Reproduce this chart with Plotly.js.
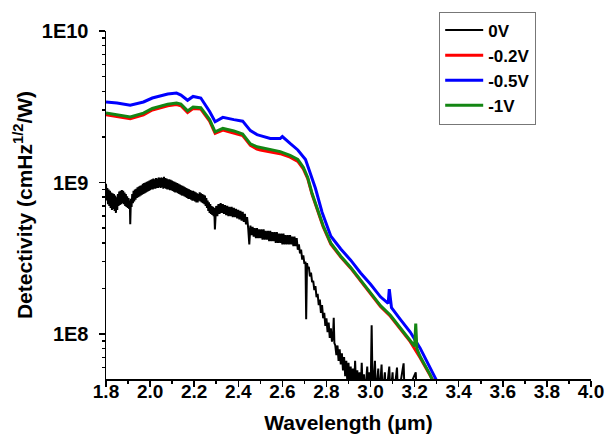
<!DOCTYPE html>
<html>
<head>
<meta charset="utf-8">
<script src="https://cdn.plot.ly/plotly-3.0.1.min.js"></script>
<style>html,body{margin:0;padding:0;background:#fff;}#chart{width:608px;height:440px;}</style>
</head>
<body>
<div id="chart"></div>
<script>
// Series names
var seriesNames = ['0V', '-0.2V', '-0.5V', '-1V'];

// 0V (black, noisy)
var wl0 = [1.800,1.803,1.806,1.809,1.812,1.815,1.818,1.821,1.824,1.827,1.830,1.833,1.836,1.839,1.842,1.845,1.848,1.851,1.854,1.857,1.860,1.863,1.866,1.869,1.872,1.875,1.878,1.881,1.884,1.887,1.890,1.893,1.896,1.899,1.902,1.905,1.908,1.910,1.913,1.916,1.919,1.922,1.925,1.928,1.931,1.934,1.937,1.940,1.943,1.946,1.949,1.952,1.955,1.958,1.961,1.964,1.967,1.970,1.973,1.976,1.979,1.982,1.985,1.988,1.991,1.994,1.997,2.000,2.003,2.006,2.009,2.012,2.015,2.018,2.021,2.024,2.027,2.030,2.033,2.036,2.039,2.042,2.045,2.048,2.051,2.054,2.057,2.060,2.063,2.066,2.069,2.072,2.075,2.078,2.081,2.084,2.087,2.090,2.093,2.096,2.099,2.102,2.105,2.108,2.111,2.114,2.117,2.120,2.123,2.126,2.129,2.132,2.135,2.138,2.141,2.144,2.147,2.150,2.153,2.156,2.159,2.162,2.165,2.168,2.171,2.174,2.177,2.180,2.183,2.186,2.189,2.192,2.195,2.198,2.201,2.204,2.207,2.210,2.213,2.216,2.219,2.222,2.225,2.228,2.231,2.234,2.237,2.240,2.243,2.246,2.249,2.252,2.255,2.258,2.261,2.264,2.267,2.270,2.273,2.276,2.279,2.282,2.285,2.288,2.291,2.294,2.297,2.300,2.305,2.310,2.315,2.320,2.325,2.330,2.335,2.340,2.345,2.350,2.355,2.360,2.365,2.370,2.375,2.380,2.385,2.390,2.395,2.400,2.405,2.410,2.415,2.420,2.425,2.430,2.435,2.440,2.445,2.450,2.455,2.460,2.465,2.470,2.475,2.480,2.485,2.490,2.495,2.500,2.505,2.510,2.515,2.520,2.525,2.530,2.535,2.540,2.545,2.550,2.555,2.560,2.565,2.570,2.575,2.580,2.585,2.590,2.595,2.600,2.605,2.610,2.615,2.620,2.625,2.630,2.635,2.640,2.645,2.650,2.655,2.660,2.665,2.670,2.675,2.680,2.685,2.690,2.695,2.700,2.705,2.708,2.712,2.715,2.720,2.725,2.730,2.735,2.740,2.745,2.750,2.755,2.760,2.765,2.770,2.775,2.780,2.785,2.790,2.795,2.800,2.805,2.810,2.815,2.820,2.825,2.830,2.833,2.836,2.840,2.845,2.850,2.855,2.860,2.865,2.870,2.875,2.880,2.885,2.890,2.895,2.900,2.905,2.910,2.915,2.920,2.925,2.930,2.935,2.940,2.945,2.950,2.955,2.960,2.965,2.970,2.975,2.985,2.990,2.995,3.000,3.005,3.010,3.020,3.025,3.035,3.040,3.050,3.055,3.065,3.070,3.085,3.090,3.100,3.105,3.120,3.125,3.150,3.155,3.205,3.210];
var det0 = [9.8e8,7.6e8,9.2e8,7.2e8,9.0e8,7.0e8,8.8e8,6.8e8,8.6e8,6.6e8,8.5e8,6.7e8,8.4e8,6.5e8,8.2e8,6.3e8,8.0e8,6.6e8,8.4e8,7.0e8,8.7e8,7.1e8,8.8e8,7.2e8,8.9e8,7.3e8,8.8e8,7.2e8,8.6e8,7.0e8,8.4e8,6.9e8,8.1e8,6.8e8,7.9e8,6.7e8,7.6e8,5.3e8,7.8e8,6.9e8,8.4e8,7.3e8,8.8e8,7.5e8,9.0e8,7.7e8,9.1e8,7.9e8,9.3e8,8.0e8,9.4e8,8.1e8,9.5e8,8.2e8,9.6e8,8.3e8,9.8e8,8.4e8,9.9e8,8.5e8,1.00e9,8.6e8,1.01e9,8.7e8,1.02e9,8.8e8,1.03e9,8.9e8,1.04e9,9.0e8,1.05e9,9.0e8,1.06e9,9.1e8,1.05e9,9.1e8,1.07e9,9.2e8,1.06e9,9.2e8,1.08e9,9.3e8,1.07e9,9.2e8,1.08e9,9.3e8,1.07e9,9.1e8,1.09e9,9.2e8,1.07e9,9.1e8,1.06e9,9.0e8,1.05e9,9.0e8,1.05e9,8.9e8,1.04e9,8.9e8,1.03e9,8.8e8,1.02e9,8.7e8,1.01e9,8.6e8,1.00e9,8.6e8,9.9e8,8.5e8,9.8e8,8.4e8,9.7e8,8.3e8,9.6e8,8.2e8,9.5e8,8.2e8,9.4e8,8.1e8,9.3e8,8.0e8,9.2e8,7.9e8,9.1e8,7.8e8,9.0e8,7.8e8,8.9e8,7.7e8,8.8e8,7.6e8,8.8e8,7.6e8,8.7e8,7.5e8,8.6e8,7.4e8,8.5e8,7.4e8,8.4e8,7.6e8,8.6e8,7.5e8,8.5e8,7.4e8,8.4e8,7.3e8,8.3e8,7.2e8,8.2e8,7.0e8,7.9e8,6.8e8,7.6e8,6.5e8,7.4e8,6.3e8,7.2e8,6.2e8,7.0e8,6.1e8,6.9e8,6.0e8,6.8e8,4.9e8,6.0e8,7.0e8,6.0e8,7.2e8,6.2e8,7.3e8,6.3e8,7.2e8,6.2e8,7.1e8,6.1e8,7.0e8,6.0e8,6.9e8,6.0e8,6.9e8,5.9e8,6.8e8,5.9e8,6.7e8,5.8e8,6.6e8,5.7e8,6.5e8,5.6e8,6.4e8,5.5e8,6.2e8,5.3e8,5.9e8,5.0e8,3.9e8,5.2e8,4.5e8,5.1e8,4.4e8,5.0e8,4.3e8,5.0e8,4.3e8,4.9e8,4.3e8,4.9e8,4.2e8,4.9e8,4.2e8,4.8e8,4.2e8,4.8e8,4.1e8,4.8e8,4.1e8,4.7e8,4.1e8,4.7e8,4.0e8,4.7e8,4.0e8,4.6e8,4.0e8,4.6e8,3.9e8,4.6e8,3.9e8,4.5e8,3.9e8,4.5e8,3.9e8,4.5e8,3.9e8,4.4e8,3.8e8,4.4e8,3.8e8,4.3e8,3.6e8,3.9e8,3.4e8,3.6e8,3.1e8,3.3e8,2.9e8,3.0e8,1.25e8,2.94e8,2.71e8,2.77e8,2.40e8,2.54e8,2.20e8,2.24e8,1.95e8,2.07e8,1.75e8,1.84e8,1.55e8,1.69e8,1.38e8,1.55e8,1.27e8,1.38e8,1.13e8,1.27e8,1.03e8,1.19e8,9.43e7,1.09e8,8.90e7,9.80e7,1.28e8,8.70e7,8.40e7,7.26e7,8.40e7,6.65e7,7.92e7,6.29e7,7.47e7,5.75e7,7.05e7,5.27e7,6.65e7,4.69e7,6.46e7,4.4e7,6.09e7,4.3e7,5.92e7,4.2e7,6.65e7,4.1e7,5.75e7,4.0e7,5.58e7,4.0e7,6.46e7,3.9e7,5.42e7,3.9e7,6.09e7,3.8e7,5.58e7,3.8e7,1.14e8,3.8e7,6.65e7,3.8e7,5.92e7,3.8e7,6.29e7,3.8e7,5.58e7,3.8e7,6.09e7,3.8e7,5.58e7,3.8e7,6.0e7,3.8e7,6.4e7,3.8e7,5.58e7,3.8e7];

// -0.2V (red)
var wl02 = [1.80,1.85,1.91,1.97,2.01,2.08,2.12,2.14,2.17,2.195,2.23,2.27,2.295,2.33,2.38,2.42,2.455,2.485,2.50,2.545,2.59,2.635,2.67,2.695,2.715,2.735,2.76,2.785,2.82,2.865,2.91,2.955,3.00,3.045,3.09,3.135,3.18,3.225,3.27,3.295];
var det02 = [2.80e9,2.73e9,2.64e9,2.80e9,3.01e9,3.21e9,3.27e9,3.21e9,2.90e9,3.08e9,3.05e9,2.54e9,2.11e9,2.22e9,2.13e9,2.04e9,1.76e9,1.66e9,1.64e9,1.60e9,1.55e9,1.47e9,1.38e9,1.23e9,1.06e9,8.32e8,6.55e8,5.11e8,3.92e8,3.22e8,2.72e8,2.24e8,1.84e8,1.52e8,1.31e8,1.08e8,8.90e7,6.98e7,5.35e7,4.6e7];

// -0.5V (blue)
var wl05 = [1.80,1.85,1.91,1.97,2.01,2.08,2.12,2.14,2.17,2.195,2.23,2.27,2.295,2.33,2.38,2.42,2.455,2.485,2.50,2.545,2.59,2.60,2.635,2.67,2.705,2.725,2.75,2.78,2.82,2.865,2.91,2.955,3.00,3.045,3.08,3.085,3.095,3.135,3.18,3.225,3.27,3.295,3.31];
var det05 = [3.40e9,3.35e9,3.24e9,3.40e9,3.61e9,3.84e9,3.89e9,3.78e9,3.49e9,3.70e9,3.61e9,2.94e9,2.52e9,2.69e9,2.60e9,2.54e9,2.20e9,2.07e9,2.04e9,1.95e9,1.95e9,2.01e9,1.81e9,1.64e9,1.42e9,1.17e9,9.16e8,6.37e8,4.42e8,3.64e8,3.07e8,2.53e8,2.13e8,1.76e8,1.59e8,1.98e8,1.49e8,1.25e8,1.03e8,8.07e7,6.03e7,5.21e7,4.6e7];

// -1V (green)
var wl1 = [1.80,1.85,1.91,1.97,2.01,2.08,2.12,2.14,2.17,2.195,2.23,2.27,2.295,2.33,2.38,2.42,2.455,2.485,2.50,2.545,2.59,2.635,2.67,2.695,2.715,2.735,2.76,2.785,2.82,2.865,2.91,2.955,3.00,3.045,3.09,3.135,3.18,3.20,3.205,3.21,3.225,3.27,3.29];
var det1 = [2.88e9,2.80e9,2.71e9,2.87e9,3.08e9,3.29e9,3.35e9,3.29e9,2.97e9,3.15e9,3.12e9,2.60e9,2.16e9,2.28e9,2.19e9,2.09e9,1.80e9,1.72e9,1.70e9,1.65e9,1.60e9,1.51e9,1.42e9,1.26e9,1.08e9,8.45e8,6.65e8,5.18e8,3.98e8,3.26e8,2.75e8,2.26e8,1.86e8,1.54e8,1.33e8,1.10e8,9.0e7,8.3e7,1.17e8,8.0e7,7.1e7,5.4e7,4.6e7];

// Axis ticks
var yTickVals = [1e8, 1e9, 1e10];
var yTickText = ['1E8', '1E9', '1E10'];
var yMinorVals = [6e7,7e7,8e7,9e7,2e8,3e8,4e8,5e8,6e8,7e8,8e8,9e8,2e9,3e9,4e9,5e9,6e9,7e9,8e9,9e9];

var bold = {family: 'Liberation Sans, Arial, sans-serif', weight: 'bold', color: '#000'};
function f(size) { return Object.assign({}, bold, {size: size}); }

var traces = [
  {x: wl0, y: det0, name: seriesNames[0], mode: 'lines', line: {color: '#000000', width: 2}},
  {x: wl02, y: det02, name: seriesNames[1], mode: 'lines', line: {color: '#ff0000', width: 3}},
  {x: wl05, y: det05, name: seriesNames[2], mode: 'lines', line: {color: '#0000ff', width: 3}},
  {x: wl1, y: det1, name: seriesNames[3], mode: 'lines', line: {color: '#138613', width: 3}}
];

var layout = {
  width: 608, height: 440,
  margin: {l: 106, r: 17, t: 16, b: 61},
  paper_bgcolor: '#fff', plot_bgcolor: '#fff',
  showlegend: true,
  legend: {x: 0.687, y: 1.056, xanchor: 'left', yanchor: 'top', bgcolor: '#fff',
           bordercolor: '#777', borderwidth: 1, font: f(17), itemwidth: 38, tracegroupgap: 0},
  xaxis: {
    range: [1.8, 4.0], tick0: 1.8, dtick: 0.2, tickformat: '.1f',
    showgrid: false, zeroline: false, showline: true, linecolor: '#000', linewidth: 1.5,
    ticks: 'outside', ticklen: 6, tickwidth: 1.5, tickcolor: '#000',
    minor: {dtick: 0.1, ticks: 'outside', ticklen: 3, tickwidth: 1.5, tickcolor: '#000', showgrid: false},
    tickfont: f(19), ticklabelstandoff: -11,
    title: {text: 'Wavelength (\u03bcm)', font: f(21), standoff: 14}
  },
  yaxis: {
    type: 'log', range: [7.703, 10],
    tickmode: 'array', tickvals: yTickVals, ticktext: yTickText,
    showgrid: false, zeroline: false, showline: true, linecolor: '#000', linewidth: 1.5,
    ticks: 'outside', ticklen: 6, tickwidth: 1.5, tickcolor: '#000',
    minor: {tickmode: 'array', tickvals: yMinorVals, ticks: 'outside', ticklen: 3, tickwidth: 1.5, tickcolor: '#000', showgrid: false},
    tickfont: f(20), ticklabelstandoff: 6,
    title: {text: 'Detectivity (cmHz<sup>1/2</sup>/W)', font: f(21), standoff: 3}
  }
};

Plotly.newPlot('chart', traces, layout, {displayModeBar: false, staticPlot: true});
</script>
</body>
</html>
